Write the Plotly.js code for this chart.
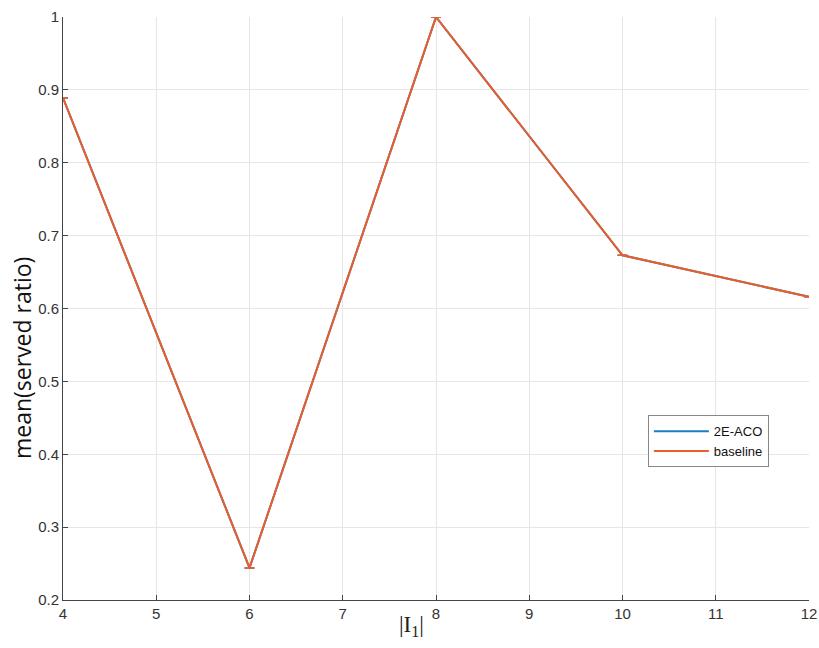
<!DOCTYPE html>
<html>
<head>
<meta charset="utf-8">
<script src="https://cdn.plot.ly/plotly-3.0.1.min.js"></script>
<style>html,body{margin:0;padding:0;background:#fff;}#chart{width:819px;height:648px;}</style>
</head>
<body>
<div id="chart"></div>
<script>
const xValues = [4, 6, 8, 10, 12];
const acoValues = [0.889, 0.244, 1.0, 0.673, 0.616];
const baselineValues = [0.889, 0.244, 1.0, 0.673, 0.616];
const acoErr = [0, 0, 0, 0, 0];
const baselineErr = [0, 0, 0, 0, 0];
const xTicks = [4, 5, 6, 7, 8, 9, 10, 11, 12];
const yTicks = [0.2, 0.3, 0.4, 0.5, 0.6, 0.7, 0.8, 0.9, 1];
const yTickText = ['0.2', '0.3', '0.4', '0.5', '0.6', '0.7', '0.8', '0.9', '1'];

const traces = [
  {
    x: xValues, y: acoValues, name: '2E-ACO', type: 'scatter', mode: 'lines',
    line: {color: '#1A7FC4', width: 2},
    error_y: {type: 'data', array: acoErr, visible: true, color: '#1A7FC4', thickness: 1.5, width: 5}
  },
  {
    x: xValues, y: baselineValues, name: 'baseline', type: 'scatter', mode: 'lines',
    line: {color: '#EC5C28', width: 2},
    error_y: {type: 'data', array: baselineErr, visible: true, color: '#EC5C28', thickness: 1.5, width: 5}
  }
];

const layout = {
  width: 819, height: 648,
  margin: {l: 63, r: 10, t: 17, b: 48},
  paper_bgcolor: '#fff', plot_bgcolor: '#fff',
  font: {family: 'Liberation Sans, Arial, sans-serif', color: '#333'},
  xaxis: {
    range: [4, 12], tickvals: xTicks, ticktext: xTicks.map(String),
    showgrid: true, gridcolor: '#e6e6e6', gridwidth: 1,
    showline: true, linecolor: '#444', linewidth: 1,
    ticks: 'inside', ticklen: 5, tickcolor: '#444',
    tickfont: {size: 15, color: '#333'}, zeroline: false,
    ticklabeloverflow: 'allow'
  },
  yaxis: {
    range: [0.2, 1], tickvals: yTicks, ticktext: yTickText,
    showgrid: true, gridcolor: '#e6e6e6', gridwidth: 1,
    showline: true, linecolor: '#444', linewidth: 1,
    ticks: 'inside', ticklen: 5, tickcolor: '#444',
    tickfont: {size: 15, color: '#333'}, zeroline: false
  },
  showlegend: true,
  legend: {
    x: 0.784, y: 0.317, xanchor: 'left', yanchor: 'top',
    bgcolor: '#fff', bordercolor: '#888', borderwidth: 1,
    font: {size: 13, color: '#111'}, tracegroupgap: 0, itemwidth: 55
  },
  annotations: [
    {text: 'mean(served ratio)', xref: 'paper', yref: 'paper', x: -0.055, y: 0.415, xanchor: 'center', yanchor: 'middle',
     textangle: -90, showarrow: false, font: {family: 'Open Sans, Liberation Sans, sans-serif', size: 23, color: '#111'}},
    {text: '|I<sub>1</sub>|', xref: 'paper', yref: 'paper', x: 0.467, y: -0.018, xanchor: 'center', yanchor: 'top',
     showarrow: false, font: {family: 'Liberation Serif, DejaVu Serif, serif', size: 23, color: '#222'}}
  ]
};

Plotly.newPlot('chart', traces, layout, {displayModeBar: false});
</script>
</body>
</html>
